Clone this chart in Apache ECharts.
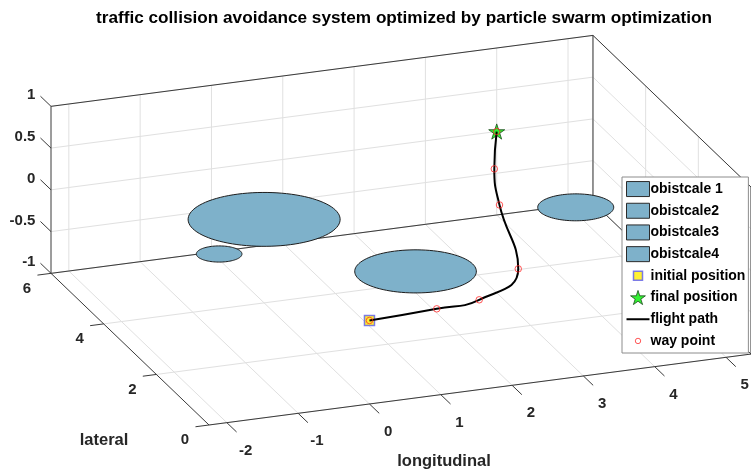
<!DOCTYPE html>
<html>
<head>
<meta charset="utf-8">
<script src="https://cdn.jsdelivr.net/npm/echarts@6/dist/echarts.min.js"></script>
<style>
  html, body { margin: 0; padding: 0; background: #fff; }
  #chart { width: 751px; height: 472px; }
</style>
</head>
<body>
<div id="chart"></div>
<script>
// ---- axis limits and ticks ----
const xLim = [-2.25, 5.35];          // longitudinal
const yLim = [0, 6];                 // lateral
const zLim = [-1, 1];                // altitude
const xTicks = [-2, -1, 0, 1, 2, 3, 4, 5];
const yTicks = [0, 2, 4, 6];
const zTicks = [-1, -0.5, 0, 0.5, 1];

// ---- obstacles: circular zones (centre + radius) in the altitude-0 plane ----
const obstacleNames = ['obistcale 1', 'obistcale2', 'obistcale3', 'obistcale4'];
const obstacleX = [0, -1, 1.2, 4];
const obstacleY = [4, 3, 1.5, 3];
const obstacleR = [1, 0.3, 0.8, 0.5];

// ---- optimized way points (first = initial, last = final position) ----
const wayX = [0, 0.98, 1.62, 2.5, 3.09, 3.49, 4];
const wayY = [0, 0.10, 0.22, 1.12, 3.43, 4.71, 6];
const wayZ = [0, 0, 0, 0, 0, 0, 0];

// ---- 3D view (orthographic, azimuth / elevation in degrees) ----
const view = { az: -20.27, el: 20.65, zStretch: 1.168 };
const rad = Math.PI / 180;
const cA = Math.cos(view.az * rad), sA = Math.sin(view.az * rad);
const cE = Math.cos(view.el * rad), sE = Math.sin(view.el * rad);
function project(x, y, z) {
  return [
    x * cA + y * sA,
    -x * sE * sA + y * sE * cA + z * view.zStretch * cE
  ];
}

// projected extent of the axes box -> cartesian frame
const corners = [];
xLim.forEach(x => yLim.forEach(y => zLim.forEach(z => corners.push(project(x, y, z)))));
const uMin = Math.min(...corners.map(c => c[0])), uMax = Math.max(...corners.map(c => c[0]));
const vMin = Math.min(...corners.map(c => c[1])), vMax = Math.max(...corners.map(c => c[1]));
const pxPerUnit = 76.4;
const frame = { left: 51, top: 35.4 };

const FONT = '"Liberation Sans", Arial, Helvetica, sans-serif';
const gridColor = '#e0e0e0';
const edgeColor = '#3a3a3a';
const obstacleFill = '#7eb1ca';

// ---- segment helpers ----
function segSeries(segs, style, z) {
  return {
    type: 'custom', coordinateSystem: 'cartesian2d', silent: true, z: z, clip: false,
    data: segs.map(s => project(s[0], s[1], s[2]).concat(project(s[3], s[4], s[5]))),
    renderItem: function (params, api) {
      const a = api.coord([api.value(0), api.value(1)]);
      const b = api.coord([api.value(2), api.value(3)]);
      return { type: 'line', shape: { x1: a[0], y1: a[1], x2: b[0], y2: b[1] }, style: style };
    }
  };
}

// grid lines on back wall (lateral = max), floor (altitude = min) and side wall (longitudinal = max)
const gridSegs = [];
xTicks.forEach(t => {
  gridSegs.push([t, yLim[1], zLim[0], t, yLim[1], zLim[1]]);
  gridSegs.push([t, yLim[0], zLim[0], t, yLim[1], zLim[0]]);
});
yTicks.forEach(t => {
  gridSegs.push([xLim[0], t, zLim[0], xLim[1], t, zLim[0]]);
  gridSegs.push([xLim[1], t, zLim[0], xLim[1], t, zLim[1]]);
});
zTicks.forEach(t => {
  gridSegs.push([xLim[0], yLim[1], t, xLim[1], yLim[1], t]);
  gridSegs.push([xLim[1], yLim[0], t, xLim[1], yLim[1], t]);
});

// box edges
const [x0, x1] = xLim, [y0, y1] = yLim, [z0, z1] = zLim;
const edgeSegs = [
  [x0, y0, z0, x1, y0, z0], [x0, y0, z0, x0, y1, z0], [x0, y1, z0, x0, y1, z1],
  [x0, y1, z1, x1, y1, z1], [x0, y1, z0, x1, y1, z0], [x1, y1, z0, x1, y1, z1],
  [x1, y1, z1, x1, y0, z1], [x1, y1, z0, x1, y0, z0], [x1, y0, z0, x1, y0, z1]
];

// ticks with labels
function tickSeries(ticks, at, dir, labelDx, labelDy, align) {
  return {
    type: 'custom', coordinateSystem: 'cartesian2d', silent: true, z: 2, clip: false,
    data: ticks.map(t => {
      const p = at(t);
      return project(p[0], p[1], p[2]).concat(project(p[0] + dir[0], p[1] + dir[1], p[2] + dir[2]));
    }),
    renderItem: function (params, api) {
      const a = api.coord([api.value(0), api.value(1)]);
      const b = api.coord([api.value(2), api.value(3)]);
      return {
        type: 'group',
        children: [
          { type: 'line', shape: { x1: a[0], y1: a[1], x2: b[0], y2: b[1] },
            style: { stroke: edgeColor, lineWidth: 1 } },
          { type: 'text', x: b[0] + labelDx, y: b[1] + labelDy,
            style: { text: String(ticks[params.dataIndex]), fill: '#262626',
                     font: 'bold 15px ' + FONT, align: align, verticalAlign: 'middle' } }
        ]
      };
    }
  };
}

// obstacle zones as filled circles in the altitude-0 plane
const obstacleSeries = obstacleNames.map((name, i) => ({
  type: 'custom', name: name, coordinateSystem: 'cartesian2d', z: 3, clip: false,
  itemStyle: { color: obstacleFill },
  data: [project(obstacleX[i], obstacleY[i], 0).concat([obstacleR[i]])],
  renderItem: function (params, api) {
    const pts = [];
    for (let k = 0; k < 96; k++) {
      const a = 2 * Math.PI * k / 96;
      pts.push(api.coord(project(obstacleX[i] + obstacleR[i] * Math.cos(a),
                                 obstacleY[i] + obstacleR[i] * Math.sin(a), 0)));
    }
    return { type: 'polygon', shape: { points: pts },
             style: { fill: obstacleFill, stroke: '#1e1e1e', lineWidth: 1 } };
  }
}));

const wayPts = wayX.map((x, i) => project(x, wayY[i], wayZ[i]));
const last = wayPts.length - 1;

function starPath(cx, cy, R) {
  const r = R * 0.382;
  let d = '';
  for (let k = 0; k < 10; k++) {
    const ang = (-90 + 36 * k) * rad;
    const rr = k % 2 ? r : R;
    d += (k ? 'L' : 'M') + (cx + rr * Math.cos(ang)).toFixed(2) + ',' + (cy + rr * Math.sin(ang)).toFixed(2);
  }
  return d + 'Z';
}
const iconFrame = 'M0,0M23,15';

const option = {
  animation: false,
  backgroundColor: '#ffffff',
  title: {
    text: 'traffic collision avoidance system optimized by particle swarm optimization',
    left: 96, top: 10, padding: 0,
    textStyle: { fontFamily: FONT, fontSize: 17.2, fontWeight: 'bold', color: '#000' }
  },
  grid: {
    left: frame.left, top: frame.top,
    width: (uMax - uMin) * pxPerUnit, height: (vMax - vMin) * pxPerUnit
  },
  xAxis: { type: 'value', min: uMin, max: uMax, show: false },
  yAxis: { type: 'value', min: vMin, max: vMax, show: false },
  legend: {
    orient: 'vertical', left: 622, top: 177, z: 20,
    padding: [1.2, 3, 1.2, 2],
    backgroundColor: '#fff', borderColor: '#8c8c8c', borderWidth: 1, borderRadius: 0,
    itemWidth: 23, itemHeight: 15, itemGap: 0,
    selectedMode: false,
    textStyle: { fontFamily: FONT, fontSize: 14, fontWeight: 'bold', color: '#000',
                 lineHeight: 21.7, padding: [0, 0, 0, -4] },
    data: obstacleNames.map(n => ({
      name: n, icon: 'rect',
      itemStyle: { color: obstacleFill, borderColor: '#2b2b2b', borderWidth: 1 }
    })).concat([
      { name: 'initial position', icon: 'path://' + iconFrame + 'M7,3h9v9h-9z',
        itemStyle: { color: '#ffee00', borderColor: '#5b5bf0', borderWidth: 1.5 } },
      { name: 'final position', icon: 'path://' + iconFrame + starPath(11.5, 8.2, 7.8),
        itemStyle: { color: '#00ee00', borderColor: '#1b4a1b', borderWidth: 1 } },
      { name: 'flight path', icon: 'path://' + iconFrame + 'M0,7.5L23,7.5',
        itemStyle: { color: 'none', borderColor: '#000', borderWidth: 2 } },
      { name: 'way point', icon: 'path://' + iconFrame + 'M14.2,7.5A2.7,2.7,0,1,1,8.8,7.5A2.7,2.7,0,1,1,14.2,7.5Z',
        itemStyle: { color: 'none', borderColor: '#ff3030', borderWidth: 1 } }
    ])
  },
  graphic: [
    { type: 'text', x: 104, y: 440, silent: true,
      style: { text: 'lateral', font: 'bold 16.5px ' + FONT, fill: '#262626', align: 'center', verticalAlign: 'middle' } },
    { type: 'text', x: 444, y: 461.5, silent: true,
      style: { text: 'longitudinal', font: 'bold 16.5px ' + FONT, fill: '#262626', align: 'center', verticalAlign: 'middle' } }
  ],
  series: [
    segSeries(gridSegs, { stroke: gridColor, lineWidth: 1 }, 1),
    segSeries(edgeSegs, { stroke: edgeColor, lineWidth: 1 }, 2),
    tickSeries(xTicks, t => [t, yLim[0], zLim[0]], [0, -0.37, 0], 9, 18.5, 'center'),
    tickSeries(yTicks, t => [xLim[0], t, zLim[0]], [-0.19, 0, 0], -10.5, 13.5, 'center'),
    tickSeries(zTicks, t => [xLim[0], yLim[1], t], [0, 0.4, 0], -5, -1, 'right'),
    ...obstacleSeries,
    {
      type: 'scatter', name: 'initial position', z: 4, silent: true,
      data: [wayPts[0]], symbol: 'rect', symbolSize: 10,
      itemStyle: { color: '#ffee00', borderColor: '#5b5bf0', borderWidth: 1.5 }
    },
    {
      type: 'scatter', name: 'final position', z: 4, silent: true,
      data: [wayPts[last]], symbol: 'path://' + starPath(0, 0, 10), symbolKeepAspect: true, symbolSize: 16,
      itemStyle: { color: '#00ee00', borderColor: '#1b4a1b', borderWidth: 1 }
    },
    {
      type: 'line', name: 'flight path', z: 5, silent: true, clip: false,
      data: wayPts, smooth: 0.5, symbol: 'none',
      lineStyle: { color: '#000', width: 2 }
    },
    {
      type: 'scatter', name: 'way point', z: 6, silent: true,
      data: wayPts, symbol: 'circle', symbolSize: 6.5,
      itemStyle: { color: 'rgba(0,0,0,0)', borderColor: '#ff2a2a', borderWidth: 1 }
    }
  ]
};

const chart = echarts.init(document.getElementById('chart'), null, { renderer: 'canvas' });
chart.setOption(option);
</script>
</body>
</html>
